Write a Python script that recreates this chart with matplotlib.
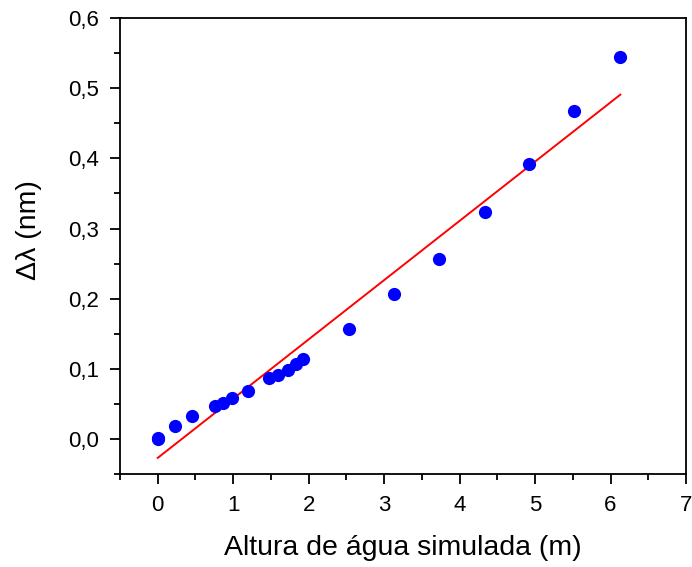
import numpy as np
from matplotlib import pyplot as plt
from matplotlib.ticker import FuncFormatter, MultipleLocator

# simulated water column height (m) and measured wavelength shift (nm)
altura = [0.0, 0.0, 0.225, 0.45, 0.755, 0.87, 0.99, 1.19, 1.48, 1.60, 1.72,
          1.83, 1.92, 2.53, 3.13, 3.73, 4.34, 4.92, 5.52, 6.13]
delta_lambda = [0.0, 0.002, 0.0185, 0.033, 0.047, 0.051, 0.058, 0.068, 0.087,
                0.091, 0.098, 0.107, 0.114, 0.157, 0.206, 0.256, 0.323, 0.392,
                0.467, 0.545]

plt.rcParams["font.family"] = ["Liberation Sans", "DejaVu Sans"]


def _comma(v, pos):
    return f"{v:g}".replace(".", ",") if abs(v) > 1e-9 else "0"


def _comma1(v, pos):
    return f"{v:.1f}".replace(".", ",")


fig = plt.figure(figsize=(6.92, 5.67), dpi=100)
ax = fig.add_axes([0.1734, 0.164, 0.8179, 0.804])

x = np.asarray(altura)
y = np.asarray(delta_lambda)
slope, intercept = np.polyfit(x, y, 1)
xfit = np.array([x.min(), x.max()])

ax.plot(xfit, slope * xfit + intercept, color="#ff0000", lw=1.4, zorder=2)
ax.plot(x, y, "o", color="#0000ff", markersize=9.5, markeredgewidth=0, zorder=3)

ax.set_xlim(-0.5, 7)
ax.set_ylim(-0.05, 0.6)
ax.xaxis.set_major_locator(MultipleLocator(1))
ax.xaxis.set_minor_locator(MultipleLocator(0.5))
ax.yaxis.set_major_locator(MultipleLocator(0.1))
ax.yaxis.set_minor_locator(MultipleLocator(0.05))
ax.xaxis.set_major_formatter(FuncFormatter(_comma))
ax.yaxis.set_major_formatter(FuncFormatter(_comma1))

ax.tick_params(which="both", direction="out", width=1.3, labelsize=16,
               top=False, right=False)
ax.tick_params(which="major", length=7, pad=8)
ax.tick_params(which="minor", length=4)
for sp in ax.spines.values():
    sp.set_linewidth(1.3)

ax.set_xlabel("Altura de água simulada (m)", fontsize=20.5, labelpad=14)
ax.set_ylabel("Δλ (nm)", fontsize=20.5)
ax.yaxis.set_label_coords(-0.138, 0.535)

fig.savefig("out.png", dpi=100)
